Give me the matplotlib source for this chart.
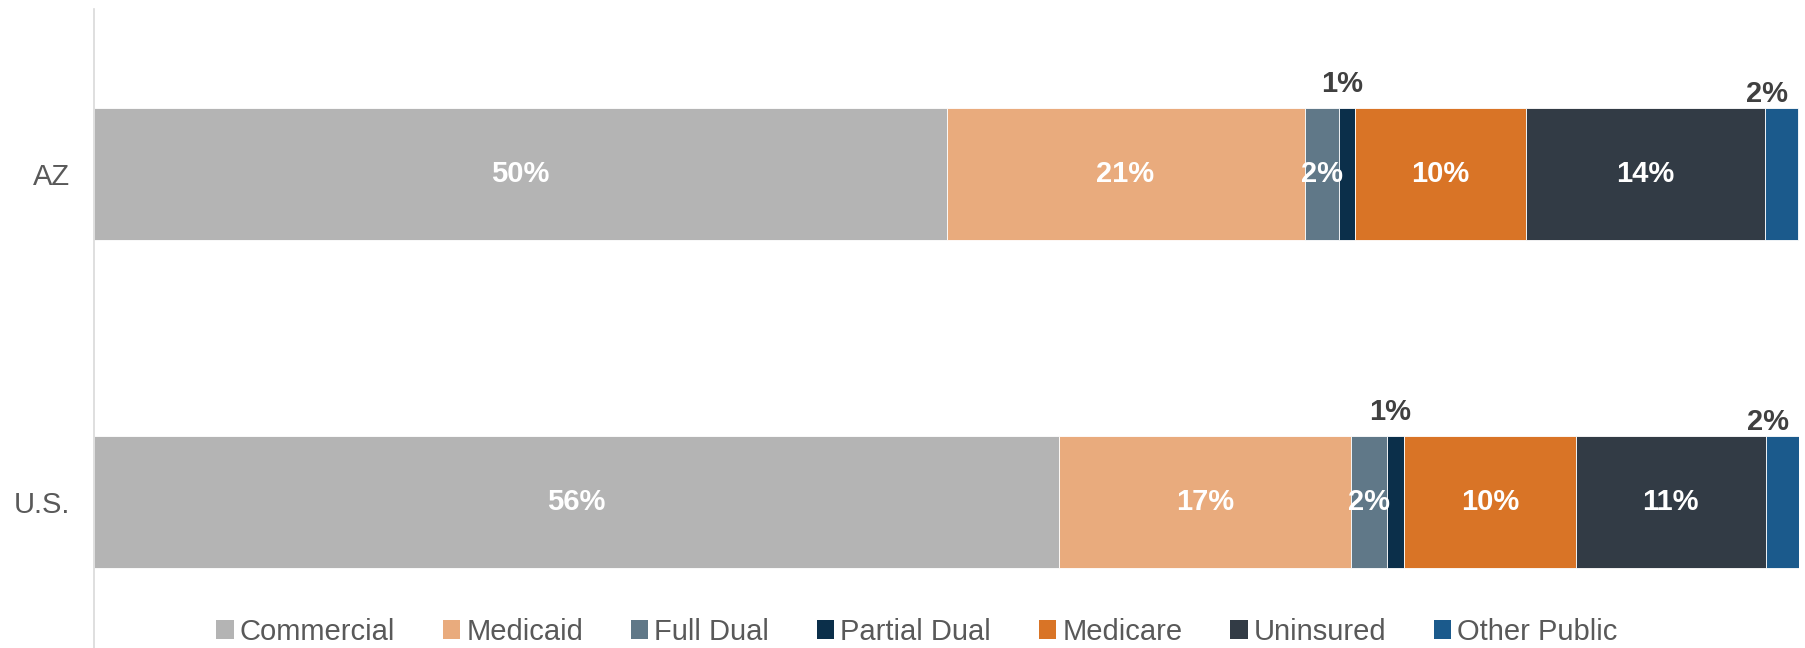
import matplotlib
matplotlib.use("Agg")
import matplotlib.pyplot as plt
from matplotlib.patches import Patch

plt.rcParams['font.family'] = ['Liberation Sans', 'DejaVu Sans']

regions = ["U.S.", "AZ"]
series = ["Commercial", "Medicaid", "Full Dual", "Partial Dual", "Medicare", "Uninsured", "Other Public"]
values = {
    "AZ":   [50.0, 21.0, 2.0, 0.95, 10.06, 13.98, 1.96],
    "U.S.": [56.6, 17.15, 2.09, 1.01, 10.06, 11.14, 1.96],
}
labels = {
    "AZ":   ["50%", "21%", "2%", "1%", "10%", "14%", "2%"],
    "U.S.": ["56%", "17%", "2%", "1%", "10%", "11%", "2%"],
}
colors = ["#B4B4B4", "#E9AB7D", "#607888", "#0B2F4A", "#D97426", "#323B45", "#1B5A8C"]
# label placement: 'in' = white centered, 'above' = dark above bar
placement = ["in", "in", "in", "above", "in", "in", "above2"]

fig = plt.figure(figsize=(18.05, 6.48), dpi=100)
ax = fig.add_axes([94/1805, 0.0, (1799-94)/1805, (648-9)/648])

bar_h = 0.4
for yi, reg in enumerate(regions):
    left = 0.0
    for si, (v, c) in enumerate(zip(values[reg], colors)):
        ax.barh(yi, v, left=left, height=bar_h, color=c, edgecolor='white', linewidth=0.6)
        cx = left + v / 2
        lab = labels[reg][si]
        if placement[si] == "in":
            ax.text(cx, yi, lab, ha='center', va='center', color='white',
                    fontsize=21, fontweight='bold')
        elif placement[si] == "above":
            ax.text(cx - 0.3, yi + bar_h/2 + 0.032, lab, ha='center', va='bottom',
                    color='#404040', fontsize=21, fontweight='bold')
        else:
            ax.text(cx - 0.85, yi + bar_h/2 + 0.0, lab, ha='center', va='bottom',
                    color='#404040', fontsize=21, fontweight='bold')
        left += v

ax.set_xlim(0, 100)
ax.set_ylim(-0.445, 1.503)
ax.set_yticks(range(len(regions)))
ax.set_yticklabels(regions, fontsize=21, color='#595959')
ax.tick_params(axis='y', length=0, pad=17)
ax.set_xticks([])
for s in ['top', 'right', 'bottom']:
    ax.spines[s].set_visible(False)
ax.spines['left'].set_color('#D9D9D9')
ax.spines['left'].set_linewidth(1.2)

handles = [Patch(facecolor=c, edgecolor='none', label=s) for s, c in zip(series, colors)]
leg = fig.legend(handles=handles, loc='center', bbox_to_anchor=(0.508, 0.025),
                 ncol=7, frameon=False, fontsize=21, handlelength=0.6, handleheight=0.6,
                 handletextpad=0.2, columnspacing=1.64, borderaxespad=0)
for t in leg.get_texts():
    t.set_color('#595959')

fig.savefig("out.png", dpi=100)
